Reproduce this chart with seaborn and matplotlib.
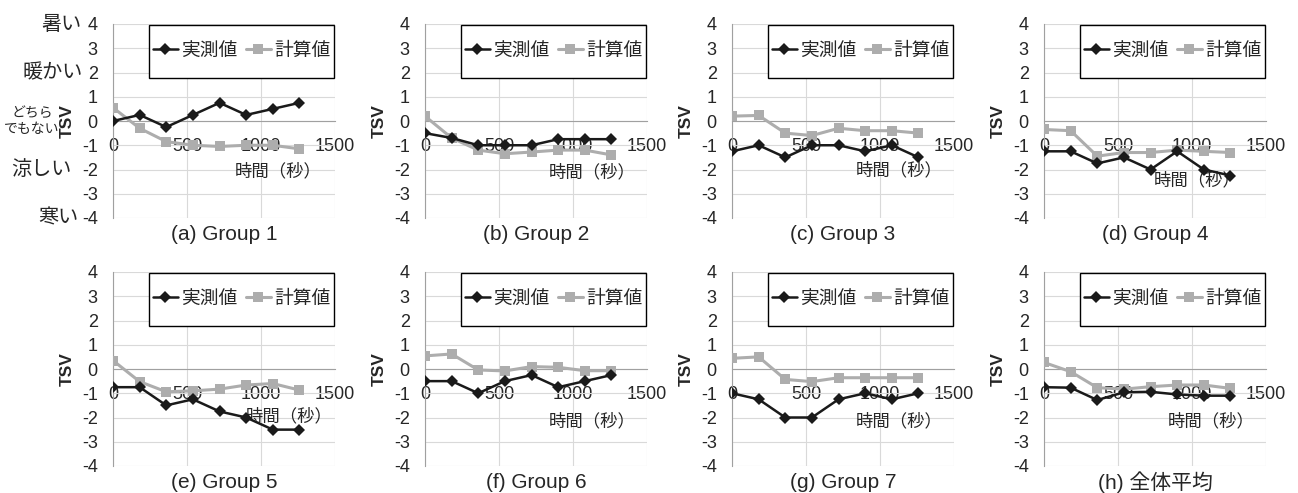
import matplotlib
matplotlib.use('Agg')
import matplotlib.pyplot as plt
import seaborn as sns
from matplotlib.patches import Rectangle

sns.set_style('white')
plt.rcParams['font.family'] = ['Liberation Sans', 'Noto Sans CJK JP']
plt.rcParams['axes.unicode_minus'] = False

# elapsed time (s) of each vote
times = [0, 180, 360, 540, 720, 900, 1080, 1260]

titles = ['(a) Group 1', '(b) Group 2', '(c) Group 3', '(d) Group 4',
          '(e) Group 5', '(f) Group 6', '(g) Group 7', '(h) 全体平均']

# 実測値 (measured TSV)
measured = [
    [0, 0.25, -0.25, 0.25, 0.75, 0.25, 0.5, 0.75],
    [-0.5, -0.7, -1.0, -1.0, -1.0, -0.75, -0.75, -0.75],
    [-1.25, -1.0, -1.5, -1.0, -1.0, -1.25, -1.0, -1.5],
    [-1.25, -1.25, -1.75, -1.5, -2.0, -1.25, -2.0, -2.25],
    [-0.75, -0.75, -1.5, -1.25, -1.75, -2.0, -2.5, -2.5],
    [-0.5, -0.5, -1.0, -0.5, -0.25, -0.75, -0.5, -0.25],
    [-1.0, -1.25, -2.0, -2.0, -1.25, -1.0, -1.25, -1.0],
    [-0.75, -0.77, -1.28, -0.96, -0.94, -1.05, -1.1, -1.1],
]

# 計算値 (calculated TSV)
calculated = [
    [0.55, -0.3, -0.85, -1.0, -1.05, -1.0, -1.0, -1.15],
    [0.2, -0.7, -1.2, -1.35, -1.28, -1.2, -1.2, -1.4],
    [0.2, 0.23, -0.5, -0.6, -0.3, -0.4, -0.4, -0.5],
    [-0.35, -0.4, -1.45, -1.3, -1.3, -1.2, -1.25, -1.3],
    [0.35, -0.52, -0.94, -0.9, -0.83, -0.66, -0.6, -0.87],
    [0.54, 0.62, -0.04, -0.08, 0.1, 0.07, -0.07, -0.07],
    [0.44, 0.5, -0.43, -0.52, -0.36, -0.36, -0.36, -0.36],
    [0.27, -0.11, -0.77, -0.83, -0.73, -0.66, -0.66, -0.8],
]

# where the "時間（秒）" label sits in each panel (data coords)
xlabel_pos = [(1115, -2.07), (1128, -2.1), (1128, -2.0), (1034, -2.45),
              (1189, -1.92), (1128, -2.13), (1128, -2.13), (1128, -2.13)]

# thermal sensation words on the first panel
scale_words = [('暑い', 4, -0.14), ('暖かい', 2, -0.135),
               ('涼しい', -2, -0.185), ('寒い', -4, -0.153)]

fig = plt.figure(figsize=(12.98, 4.93), dpi=100)
W, H = 1298, 493
lefts = [113, 425, 732, 1044]
tops = [24, 272]
pw, ph = 222, 194

axis_grey = '#A0A0A0'
for i in range(8):
    l = lefts[i % 4]
    t = tops[i // 4]
    ax = fig.add_axes([l / W, 1 - (t + ph) / H, pw / W, ph / H])

    sns.lineplot(x=times, y=calculated[i], ax=ax, color='#ADADAD', lw=2.2,
                 marker='s', markersize=6.5, markeredgewidth=0,
                 label='計算値', zorder=3)
    sns.lineplot(x=times, y=measured[i], ax=ax, color='#1a1a1a', lw=1.8,
                 marker='D', markersize=6.5, markeredgewidth=0,
                 label='実測値', zorder=4)

    ax.set_xlim(0, 1500)
    ax.set_ylim(-4, 4)
    ax.set_xticks([0, 500, 1000, 1500])
    ax.set_yticks(range(-4, 5))
    ax.grid(True, color='#D9D9D9', lw=0.8)
    ax.set_axisbelow(True)
    for s in ['top', 'right']:
        ax.spines[s].set_visible(False)
    ax.spines['left'].set_color(axis_grey)
    ax.spines['bottom'].set_color(axis_grey)
    ax.spines['bottom'].set_position(('data', 0))
    ax.tick_params(axis='y', length=4, color=axis_grey, pad=7, labelsize=13)
    ax.tick_params(axis='x', length=0, pad=12, labelsize=13)
    ax.set_xlabel('')
    ax.set_ylabel('TSV', fontsize=12.5, fontweight='bold')
    ax.yaxis.set_label_coords(-0.171, 0.5)

    # legend box, Excel style
    ax.add_patch(Rectangle((0.162, 0.724), 0.833, 0.271, transform=ax.transAxes,
                           facecolor='white', edgecolor='black', lw=1, zorder=5,
                           clip_on=False))
    h, lab = ax.get_legend_handles_labels()
    leg = ax.legend(h[::-1], lab[::-1], loc='center',
                    bbox_to_anchor=(0.162 + 0.833 / 2, 0.724 + 0.271 / 2),
                    ncol=2, frameon=False, fontsize=13.5, handlelength=1.35,
                    handletextpad=0.15, columnspacing=0.45)
    leg.set_zorder(6)

    xx, yy = xlabel_pos[i]
    ax.text(xx, yy, '時間（秒）', ha='center', va='center', fontsize=12.5, zorder=3)
    ax.text(0.5, -0.085, titles[i], transform=ax.transAxes, ha='center',
            va='center', fontsize=15)

    if i == 0:
        for word, yv, xa in scale_words:
            ax.text(xa, yv, word, transform=ax.get_yaxis_transform(),
                    ha='right', va='center', fontsize=14.5)
        ax.text(-0.365, 0.5, 'どちら\nでもない', transform=ax.transAxes,
                ha='center', va='center', fontsize=10, linespacing=1.2,
                multialignment='center')

fig.savefig('out.png', dpi=100)
